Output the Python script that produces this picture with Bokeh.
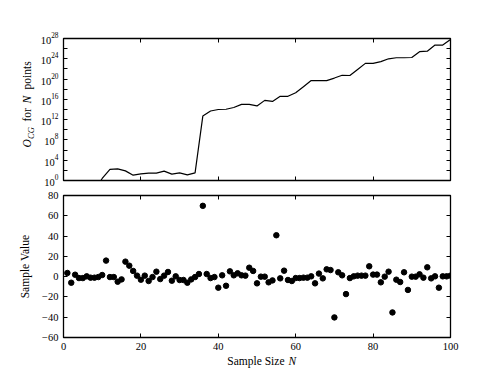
import numpy as np
from bokeh.plotting import figure
from bokeh.models import (FixedTicker, LinearAxis, LogAxis, Range1d,
                          LogTickFormatter, CustomJSTickFormatter)
from bokeh.layouts import column, row
from bokeh.core.properties import value
from bokeh.embed import file_html
from bokeh.resources import INLINE

# ---- data ----
top_n = [8, 10, 12, 14, 16, 18, 20, 22, 24, 26, 28, 30, 32, 34, 36, 38, 40, 42,
         44, 46, 48, 50, 52, 54, 56, 58, 60, 62, 64, 66, 68, 70, 72, 74, 76, 78,
         80, 82, 84, 86, 88, 90, 92, 94, 96, 98, 100]
top_log10 = [-2.0, 0.4, 2.2, 2.3, 1.9, 1.05, 1.3, 1.45, 1.45, 1.85, 1.25, 1.5,
             1.1, 1.5, 12.7, 13.7, 14.0, 14.05, 14.4, 15.0, 15.0, 14.7, 15.8,
             15.6, 16.6, 16.6, 17.3, 18.5, 19.7, 19.7, 19.7, 20.2, 20.75, 20.7,
             21.9, 23.1, 23.1, 23.45, 24.0, 24.2, 24.2, 24.25, 25.4, 25.5, 26.7,
             26.7, 27.8]

sample_n = list(range(1, 101))
sample_values = [3.6, -6, 1.9, -1.4, -1.4, 0.3, -1, -1, -0.4, 1.6,
                 15.8, -0.4, -0.4, -5, -2.7, 14.8, 10.8, 5.6, 1, -3,
                 1, -4.3, -0.4, 4.9, -2.4, 1, 4.6, -4, 0.3, -3.3,
                 -3.3, -6, -2.7, -0.4, 2.6, 69.8, 2.6, -1.4, -0.4, -10.9,
                 1.3, -9, 5.2, 1.3, 3.3, 1.3, 1, 8.8, 5.6, -6.6,
                 0, 0, -5.6, -3.7, 40.8, -1.7, 5.9, -3.3, -4.3, -1.4,
                 -1.4, -1, -1, 0.3, -6.6, 3, -1.7, 7.2, 6.5, -40.2,
                 4.3, 1.3, -17.2, -1.4, 0.3, 1, 1, 1, 10.2, 2,
                 2, -5.6, 0, 4.9, -35.3, -3, -5.3, 4.3, -13.1, 0,
                 0, 2.3, -1, 9.2, -1.7, 0.3, -10.9, 0.3, 0.3, 1]

x_ticks = [0, 20, 40, 60, 80, 100]
top_major_exp = [0, 4, 8, 12, 16, 20, 24, 28]
top_minor_exp = [2, 6, 10, 14, 18, 22, 26]
bottom_y_ticks = [-60, -40, -20, 0, 20, 40, 60, 80]

top_label_parts = ["O", "CG", "for", "N", "points"]
bottom_y_label = "Sample Value"
x_label_parts = ["Sample Size", "N"]

FONT = "'Liberation Serif'"
LW = 36          # width of the left label strip
FW, FH = 387, 142


def style_axis(ax, labels=True):
    ax.axis_line_color = None
    ax.major_tick_in = 4
    ax.major_tick_out = 0
    ax.minor_tick_in = 4
    ax.minor_tick_out = 0
    ax.major_tick_line_color = "black"
    ax.minor_tick_line_color = "black"
    if labels:
        ax.major_label_text_font = FONT
        ax.major_label_text_font_size = "10.5px"
        ax.major_label_text_color = "black"
        ax.major_label_standoff = 5
    else:
        ax.formatter = CustomJSTickFormatter(code="return ''")
        ax.major_label_text_font_size = "0px"
        ax.major_label_standoff = 0


def base_style(p):
    p.outline_line_color = "black"
    p.outline_line_width = 1.3
    p.xgrid.grid_line_color = None
    p.ygrid.grid_line_color = None


def strip(width, height):
    s = figure(frame_width=width, frame_height=height,
               x_range=Range1d(0, width), y_range=Range1d(height, 0),
               x_axis_location=None, y_axis_location=None,
               output_backend="svg", toolbar_location=None,
               min_border=0, outline_line_color=None)
    s.xgrid.grid_line_color = None
    s.ygrid.grid_line_color = None
    return s


# ---- top: O_CG vs N (log scale) ----
p1 = figure(frame_width=FW, frame_height=FH, x_range=Range1d(0, 100),
            y_range=Range1d(1, 1e28), y_axis_type="log",
            output_backend="svg", toolbar_location=None,
            min_border_left=63 - LW, min_border_right=50,
            min_border_top=38, min_border_bottom=7)
base_style(p1)
p1.line(top_n, [10 ** v for v in top_log10], line_color="black", line_width=1.2)

p1.yaxis.ticker = FixedTicker(ticks=[10.0 ** e for e in top_major_exp],
                              minor_ticks=[10.0 ** e for e in top_minor_exp])
p1.yaxis.formatter = LogTickFormatter()
style_axis(p1.yaxis[0], labels=True)
p1.xaxis.ticker = FixedTicker(ticks=x_ticks)
style_axis(p1.xaxis[0], labels=False)
ax = LinearAxis(ticker=FixedTicker(ticks=x_ticks))
style_axis(ax, labels=False)
p1.add_layout(ax, "above")
ay = LogAxis(ticker=FixedTicker(ticks=[10.0 ** e for e in top_major_exp],
                                minor_ticks=[10.0 ** e for e in top_minor_exp]))
style_axis(ay, labels=False)
p1.add_layout(ay, "right")

# ---- bottom: sample values ----
p2 = figure(frame_width=FW, frame_height=FH, x_range=Range1d(0, 100),
            y_range=Range1d(-60, 80),
            output_backend="svg", toolbar_location=None,
            min_border_left=63 - LW, min_border_right=50,
            min_border_top=8, min_border_bottom=18)
base_style(p2)
p2.scatter(sample_n, sample_values, size=5.5, color="black")

minus_fmt = CustomJSTickFormatter(
    code="return tick < 0 ? '\\u2212' + Math.abs(tick) : String(tick)")
p2.xaxis.ticker = FixedTicker(ticks=x_ticks)
style_axis(p2.xaxis[0], labels=True)
p2.yaxis.ticker = FixedTicker(ticks=bottom_y_ticks)
p2.yaxis.formatter = minus_fmt
style_axis(p2.yaxis[0], labels=True)
ax2 = LinearAxis(ticker=FixedTicker(ticks=x_ticks))
style_axis(ax2, labels=False)
p2.add_layout(ax2, "above")
ay2 = LinearAxis(ticker=FixedTicker(ticks=bottom_y_ticks))
style_axis(ay2, labels=False)
p2.add_layout(ay2, "right")

H_TOP = 38 + FH + 7
H_BOT = 8 + FH + 18

# ---- left strip with rotated y labels (mixed italic / roman) ----
L = strip(LW, H_TOP + H_BOT)
# top label, pieces run upward from the bottom
L.text(x=[26], y=[147], text=[top_label_parts[0]], angle=np.pi / 2,
       text_align="left", text_baseline="middle", text_font=value(FONT),
       text_font_style="italic", text_font_size="11.5px", text_color="black")
L.text(x=[30], y=[138.5], text=[top_label_parts[1]], angle=np.pi / 2,
       text_align="left", text_baseline="middle", text_font=value(FONT),
       text_font_style="italic", text_font_size="8.5px", text_color="black")
L.text(x=[26], y=[121], text=[top_label_parts[2]], angle=np.pi / 2,
       text_align="left", text_baseline="middle", text_font=value(FONT),
       text_font_style="normal", text_font_size="11.5px", text_color="black")
L.text(x=[26], y=[103], text=[top_label_parts[3]], angle=np.pi / 2,
       text_align="left", text_baseline="middle", text_font=value(FONT),
       text_font_style="italic", text_font_size="11.5px", text_color="black")
L.text(x=[26], y=[89], text=[top_label_parts[4]], angle=np.pi / 2,
       text_align="left", text_baseline="middle", text_font=value(FONT),
       text_font_style="normal", text_font_size="11.5px", text_color="black")
L.text(x=[24], y=[266], text=[bottom_y_label], angle=np.pi / 2,
       text_align="center", text_baseline="middle", text_font=value(FONT),
       text_font_size="11.5px", text_color="black")

# ---- bottom strip with x label ----
B = strip(500, 375 - H_TOP - H_BOT)
B.text(x=[284], y=[5], text=[x_label_parts[0]], text_align="right",
       text_baseline="middle", text_font=value(FONT),
       text_font_size="11.5px", text_color="black")
B.text(x=[288], y=[5], text=[x_label_parts[1]], text_align="left",
       text_baseline="middle", text_font=value(FONT), text_font_style="italic",
       text_font_size="11.5px", text_color="black")

layout = column(row(L, column(p1, p2, spacing=0), spacing=0), B, spacing=0)
open("out.html", "w").write(file_html(layout, INLINE))
